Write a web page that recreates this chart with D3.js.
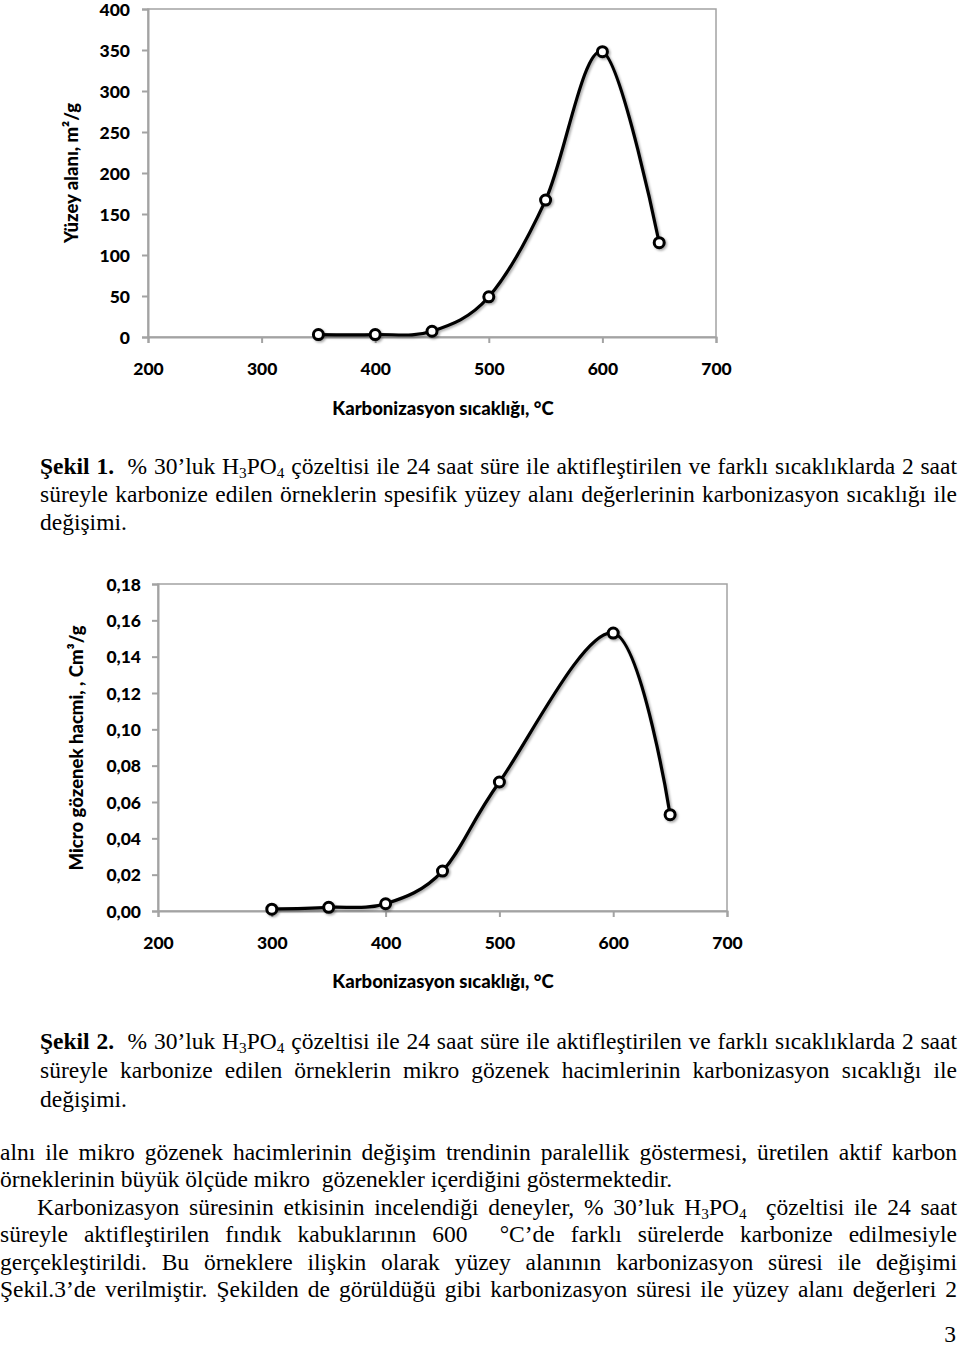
<!DOCTYPE html>
<html><head><meta charset="utf-8">
<script src="https://cdn.jsdelivr.net/npm/d3@7"></script>
<style>body{margin:0;background:#fff}svg{display:block}text{white-space:pre}</style>
</head><body>
<svg id="page" width="960" height="1347"></svg>
<script>
// ---- data ----
const xTicks = [200, 300, 400, 500, 600, 700];
const temps1 = [350, 400, 450, 500, 550, 600, 650];
const surfaceArea = [3, 3, 7, 49, 167, 348, 115];
const yTicks1 = [0, 50, 100, 150, 200, 250, 300, 350, 400];
const temps2 = [300, 350, 400, 450, 500, 600, 650];
const microVolume = [0.001, 0.002, 0.004, 0.022, 0.071, 0.153, 0.053];
const yTicks2 = [0, 0.02, 0.04, 0.06, 0.08, 0.10, 0.12, 0.14, 0.16, 0.18];
const xTitle = "Karbonizasyon sıcaklığı, °C";
const yTitle1 = "Yüzey alanı, m²/g";
const yTitle2 = "Micro gözenek hacmi, , Cm³/g";

const caption1 = [
  "*Şekil 1.*  % 30’luk H_3PO_4 çözeltisi ile 24 saat süre ile aktifleştirilen ve farklı sıcaklıklarda 2 saat",
  "süreyle karbonize edilen örneklerin spesifik yüzey alanı değerlerinin karbonizasyon sıcaklığı ile",
  "değişimi."
];
const caption2 = [
  "*Şekil 2.*  % 30’luk H_3PO_4 çözeltisi ile 24 saat süre ile aktifleştirilen ve farklı sıcaklıklarda 2 saat",
  "süreyle karbonize edilen örneklerin mikro gözenek hacimlerinin karbonizasyon sıcaklığı ile",
  "değişimi."
];
const bodyText = [
  "alnı ile mikro gözenek hacimlerinin değişim trendinin paralellik göstermesi, üretilen aktif karbon",
  "örneklerinin büyük ölçüde mikro  gözenekler içerdiğini göstermektedir.",
  "Karbonizasyon süresinin etkisinin incelendiği deneyler, % 30’luk H_3PO_4  çözeltisi ile 24 saat",
  "süreyle aktifleştirilen fındık kabuklarının 600  °C’de farklı sürelerde karbonize edilmesiyle",
  "gerçekleştirildi. Bu örneklere ilişkin olarak yüzey alanının karbonizasyon süresi ile değişimi",
  "Şekil.3’de verilmiştir. Şekilden de görüldüğü gibi karbonizasyon süresi ile yüzey alanı değerleri 2"
];

// ---- drawing ----
const svg = d3.select("#page");
svg.append("rect").attr("width", 960).attr("height", 1347).attr("fill", "#fff");
const defs = svg.append("defs");
const f = defs.append("filter").attr("id", "sh").attr("x", "-20%").attr("y", "-20%").attr("width", "140%").attr("height", "140%");
f.append("feDropShadow").attr("dx", 1.5).attr("dy", 1.5).attr("stdDeviation", 1.2).attr("flood-color", "#000").attr("flood-opacity", 0.35);

const GREY = "#a3a3a3";
const CF = "Lato, 'Open Sans', sans-serif";

function chart(cfg) {
  const x = d3.scaleLinear().domain([200, 700]).range([cfg.left, cfg.right]);
  const y = d3.scaleLinear().domain(cfg.ydom).range([cfg.bottom, cfg.top]);
  const g = svg.append("g");
  g.append("rect").attr("x", cfg.left).attr("y", cfg.top)
    .attr("width", cfg.right - cfg.left).attr("height", cfg.bottom - cfg.top)
    .attr("fill", "none").attr("stroke", GREY).attr("stroke-width", 1.5);
  const ya = g.append("g").attr("transform", `translate(${cfg.left},0)`)
    .call(d3.axisLeft(y).tickValues(cfg.yticks).tickSize(6).tickPadding(cfg.ypad).tickFormat(cfg.yfmt));
  const xa = g.append("g").attr("transform", `translate(0,${cfg.bottom})`)
    .call(d3.axisBottom(x).tickValues(xTicks).tickSize(6).tickFormat(d3.format("d")));
  [ya, xa].forEach(a => {
    a.select(".domain").attr("stroke", GREY).attr("stroke-width", 2);
    a.selectAll(".tick line").attr("stroke", GREY).attr("stroke-width", 2);
    a.selectAll("text").attr("fill", "#000").attr("font-family", CF)
      .attr("font-weight", 900).attr("font-size", cfg.fs);
  });
  xa.selectAll("text").attr("y", cfg.xlabOff).attr("dy", "0.35em");
  ya.selectAll("text").attr("dy", "0.35em");
  g.append("text").attr("x", cfg.xtx).attr("y", cfg.xty).attr("text-anchor", "middle")
    .attr("font-family", CF).attr("font-weight", 900).attr("font-size", 18.5).text(xTitle);
  g.append("text").attr("transform", `translate(${cfg.ytx},${cfg.yty}) rotate(-90)`)
    .attr("text-anchor", "middle").attr("font-family", CF).attr("font-weight", 900)
    .attr("font-size", 18.5).text(cfg.ytitle);
  const pts = cfg.xs.map((v, i) => [x(v), y(cfg.ys[i])]);
  const mg = g.append("g").attr("filter", "url(#sh)");
  mg.append("path").attr("d", d3.line().curve(d3.curveCardinal.tension(0))(pts))
    .attr("fill", "none").attr("stroke", "#000").attr("stroke-width", 3.2);
  mg.selectAll("circle").data(pts).join("circle")
    .attr("cx", d => d[0]).attr("cy", d => d[1]).attr("r", 5)
    .attr("fill", "#fff").attr("stroke", "#000").attr("stroke-width", 3);
}

chart({left: 148, right: 716, top: 9, bottom: 337, ydom: [0, 400], yticks: yTicks1,
  yfmt: d3.format("d"), ypad: 12, fs: 17.5, xlabOff: 32, xtx: 443, xty: 415,
  ytx: 78, yty: 173, ytitle: yTitle1, xs: temps1, ys: surfaceArea});
chart({left: 158, right: 727, top: 584, bottom: 911, ydom: [0, 0.18], yticks: yTicks2,
  yfmt: d => d3.format(".2f")(d).replace(".", ","), ypad: 11, fs: 17.5, xlabOff: 32, xtx: 443, xty: 988,
  ytx: 83, yty: 748, ytitle: yTitle2, xs: temps2, ys: microVolume});

// ---- text ----
const FS = 23.5, SX = 1.0;
function textLine(str, x, y, width, justify) {
  const t = svg.append("text").attr("font-family", "'Liberation Serif', 'Times New Roman', serif")
    .attr("font-size", FS).attr("fill", "#000")
    .attr("transform", `translate(${x},${y}) scale(${SX},1)`);
  const re = /(\*[^*]+\*|_\d)/g;
  const parts = str.split(re).filter(s => s.length);
  let plain = "", shifted = false;
  parts.forEach(p => {
    let ts;
    if (p.startsWith("*")) { ts = t.append("tspan").attr("font-weight", "bold").text(p.slice(1, -1)); plain += p.slice(1, -1); }
    else if (p.startsWith("_")) { ts = t.append("tspan").attr("font-size", FS * 0.65).text(p.slice(1)); plain += p.slice(1); }
    else { ts = t.append("tspan").text(p); plain += p; }
    const sub = p.startsWith("_");
    if (sub && !shifted) { ts.attr("dy", 4); shifted = true; }
    else if (!sub && shifted) { ts.attr("dy", -4); shifted = false; }
  });
  if (justify) {
    const W = t.node().getComputedTextLength();
    const n = (plain.match(/ /g) || []).length;
    if (n > 0) t.attr("word-spacing", (width / SX - W) / n);
  }
}
caption1.forEach((s, i) => textLine(s, 40, 474 + i * 28, 917, i < 2));
caption2.forEach((s, i) => textLine(s, 40, 1049 + i * 29, 917, i < 2));
const bodyX = [0, 0, 37, 0, 0, 0];
bodyText.forEach((s, i) => textLine(s, bodyX[i], 1160 + i * 27.4, 957 - bodyX[i], i !== 1));
svg.append("text").attr("x", 956).attr("y", 1342).attr("text-anchor", "end")
  .attr("font-family", "'Liberation Serif', serif").attr("font-size", FS).text("3");
</script>
</body></html>
